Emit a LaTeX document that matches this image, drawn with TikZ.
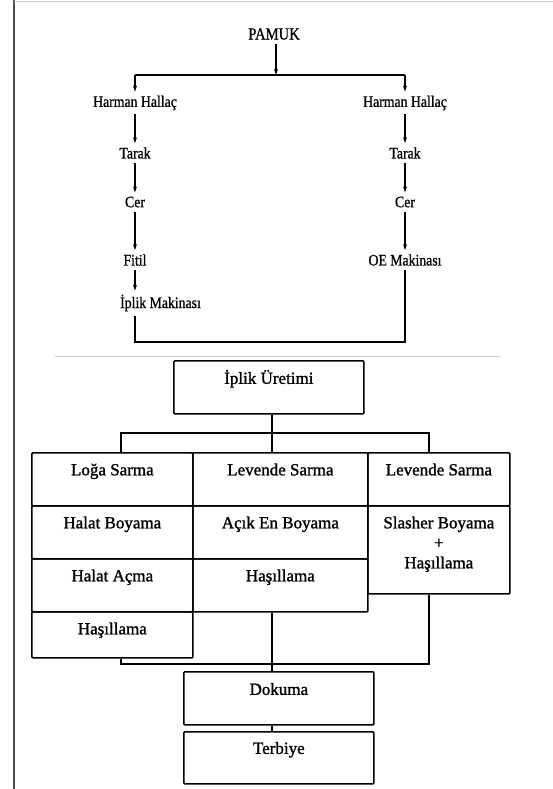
\documentclass[tikz,border=0pt]{standalone}
\usepackage{fontspec}
\setmainfont{Liberation Serif}[FakeBold=1.2]
\newfontfamily\narrowserif[FakeStretch=0.86, FakeBold=0.8]{Liberation Serif}
\newfontfamily\cellserif[FakeBold=1.3]{Liberation Serif}
\usetikzlibrary{arrows.meta}

\begin{document}
\begin{tikzpicture}[
        x=1pt, y=-1pt,
        flow/.style={
            font=\narrowserif\fontsize{16}{19}\selectfont, inner sep=4pt
        },
        arr/.style={
            line width=1.3pt, -{Stealth[length=6pt, width=4pt]}
        },
        link/.style={
            line width=1.7pt
        },
        cell/.style={
            draw, line width=1.7pt, rounded corners=1pt, inner sep=0pt,
            anchor=north west, font=\cellserif\fontsize{17}{21}\selectfont,
            text height=22.5pt, text depth=30.5pt
        }
    ]
    \useasboundingbox (0,0) rectangle (553,789);
    \draw[black!70, line width=1.2pt] (14,0) -- (14,789);
    \draw[black!20, line width=0.8pt] (14,1.5) -- (553,1.5);

    % spinning
    \node[flow, font=\narrowserif\fontsize{17}{20}\selectfont] (pamuk) at (274, 34) {PAMUK};
    \node[flow] (hhL) at (135, 103) {Harman Hallaç};
    \node[flow] (tarakL) at (135, 153) {Tarak};
    \node[flow] (cerL) at (135, 202) {Cer};
    \node[flow] (fitil) at (135, 260) {Fitil};
    \node[flow, anchor=base west] (iplik) at (116, 308) {İplik Makinası};
    \node[flow] (hhR) at (405, 103) {Harman Hallaç};
    \node[flow] (tarakR) at (405, 153) {Tarak};
    \node[flow] (cerR) at (405, 202) {Cer};
    \node[flow] (oe) at (405, 260) {OE Makinası};

    \coordinate (split) at (276, 75);
    \coordinate (splitL) at (135, 75);
    \coordinate (splitR) at (405, 75);
    \coordinate (join) at (272, 342);

    \draw[arr] (pamuk.south -| split) -- (split);
    \draw[link, line width=1.5pt] (splitL) -- (splitR);
    \draw[arr] (splitL) -- (hhL);
    \draw[arr] (splitR) -- (hhR);
    \draw[arr] (hhL) -- (tarakL);
    \draw[arr] (tarakL) -- (cerL);
    \draw[arr] (cerL) -- (fitil);
    \draw[arr] (fitil) -- (fitil |- iplik.north);
    \draw[arr] (hhR) -- (tarakR);
    \draw[arr] (tarakR) -- (cerR);
    \draw[arr] (cerR) -- (oe);
    \draw[link, line width=1.5pt] (iplik.south -| fitil) -- (fitil |- join) -- (oe |- join) -- (oe.south);

    \draw[black!20, line width=1pt] (55, 356) -- (500, 356);

    % weaving preparation
    \node[cell, minimum width=190pt, text height=23pt, text depth=30pt] (uretim) at (173, 360) {İplik Üretimi};

    \node[cell, minimum width=161pt] (loga) at (31, 452) {Loğa Sarma};
    \node[cell, minimum width=161pt] (boya) at (31, 505) {Halat Boyama};
    \node[cell, minimum width=161pt] (acma) at (31, 558) {Halat Açma};
    \node[cell, minimum width=161pt, text depth=23.5pt] (hasL) at (31, 611) {Haşıllama};

    \node[cell, minimum width=175pt] (levM) at (192, 452) {Levende Sarma};
    \node[cell, minimum width=175pt] (acik) at (192, 505) {Açık En Boyama};
    \node[cell, minimum width=175pt] (hasM) at (192, 558) {Haşıllama};

    \node[cell, minimum width=142pt] (levR) at (367, 452) {Levende Sarma};
    \node[cell, minimum width=142pt, text depth=65.5pt] (slasher) at (367, 505)
        {\begin{tabular}[t]{@{}c@{}}Slasher Boyama\\[-1pt] +\\[-1pt] Haşıllama\end{tabular}};

    \node[cell, minimum width=190pt, text height=23pt, text depth=30pt] (dokuma) at (183, 671) {Dokuma};
    \node[cell, minimum width=190pt, text height=22pt, text depth=30pt] (terbiye) at (183, 731) {Terbiye};

    \coordinate (fork) at (272, 433);
    \coordinate (forkL) at (121, 433);
    \coordinate (forkR) at (429, 433);
    \coordinate (merge) at (272, 664);
    \coordinate (mergeL) at (121, 664);
    \coordinate (mergeR) at (429, 664);

    \draw[link] (uretim.south -| fork) -- (fork);
    \draw[link] (loga.north -| forkL) -- (forkL) -- (forkR) -- (levR.north -| forkR);
    \draw[link] (fork) -- (levM.north -| fork);
    \draw[link] (hasL.south -| mergeL) -- (mergeL) -- (mergeR) -- (slasher.south -| mergeR);
    \draw[link] (hasM.south -| merge) -- (dokuma.north -| merge);
    \draw[link] (dokuma.south -| merge) -- (terbiye.north -| merge);
\end{tikzpicture}
\end{document}
